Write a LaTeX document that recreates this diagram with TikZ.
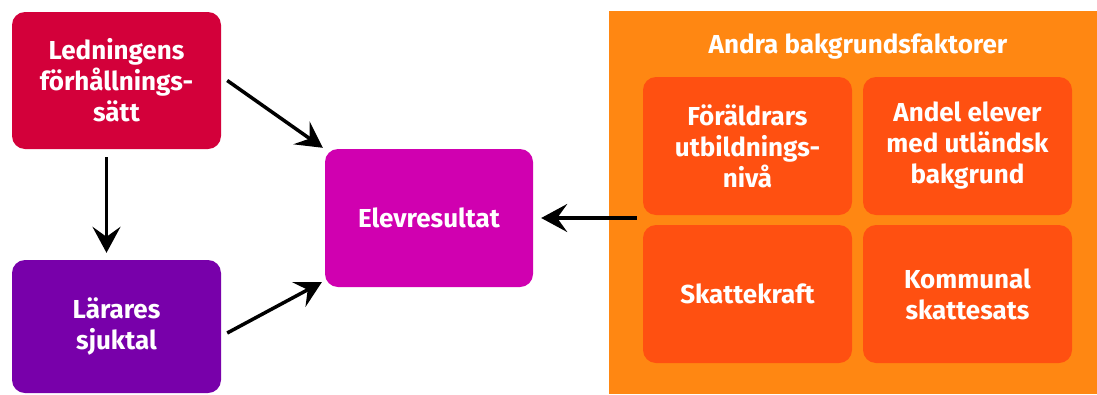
\documentclass[tikz,border=0pt]{standalone}
\usepackage{fontspec}
\setmainfont{Fira Sans}
\usetikzlibrary{arrows.meta,calc}
\definecolor{ledred}{HTML}{D3003A}
\definecolor{larpurple}{HTML}{7800AA}
\definecolor{elevmag}{HTML}{D000B0}
\definecolor{panelorange}{HTML}{FF8712}
\definecolor{factororange}{HTML}{FF5011}
\tikzset{
  box/.style={rounded corners=13pt, inner sep=0pt, align=center, text=white,
    font=\fontsize{26}{31}\selectfont\bfseries},
  factor/.style={box, fill=factororange, minimum width=209pt, minimum height=138pt},
  conn/.style={line width=3.5pt, -{Stealth[length=26pt,width=28pt,inset=10pt]}}
}
\begin{document}
\begin{tikzpicture}[x=1pt,y=-1pt]
\useasboundingbox (0,0) rectangle (1097,394);
\node[box, fill=ledred, minimum width=209pt, minimum height=137pt] (led) at (116.5,80.5) {Ledningens\\förhållnings-\\sätt};
\node[box, fill=larpurple, minimum width=209pt, minimum height=133pt] (lar) at (116.5,326.5) {Lärares\\sjuktal};
\node[box, fill=elevmag, minimum width=208pt, minimum height=138pt] (elev) at (429,218) {Elevresultat};
\node[fill=panelorange, inner sep=0pt, minimum width=488pt, minimum height=383pt] (panel) at (853,202.5) {};
\node[box, text=white] (title) at (858,47) {Andra bakgrundsfaktorer};
\node[factor] (f1) at (747.5,146) {Föräldrars\\utbildnings-\\nivå};
\node[factor] (f2) at (967.5,146) {Andel elever\\med utländsk\\bakgrund};
\node[factor] (f3) at (747.5,294) {Skattekraft};
\node[factor] (f4) at (967.5,294) {Kommunal\\skattesats};
\draw[conn] ($(led.east)+(6,0)$) -- ($(elev.north west)+(-2,-1)$);
\draw[conn] ($(lar.east)+(6,6.5)$) -- ($(elev.south west)+(-3,-5)$);
\draw[conn] ($(led.south)+(-10,8)$) -- ($(lar.north)+(-10,-7)$);
\draw[conn] ($(panel.west |- elev.east)+(28,0)$) -- ($(elev.east)+(8,0)$);
\end{tikzpicture}
\end{document}
